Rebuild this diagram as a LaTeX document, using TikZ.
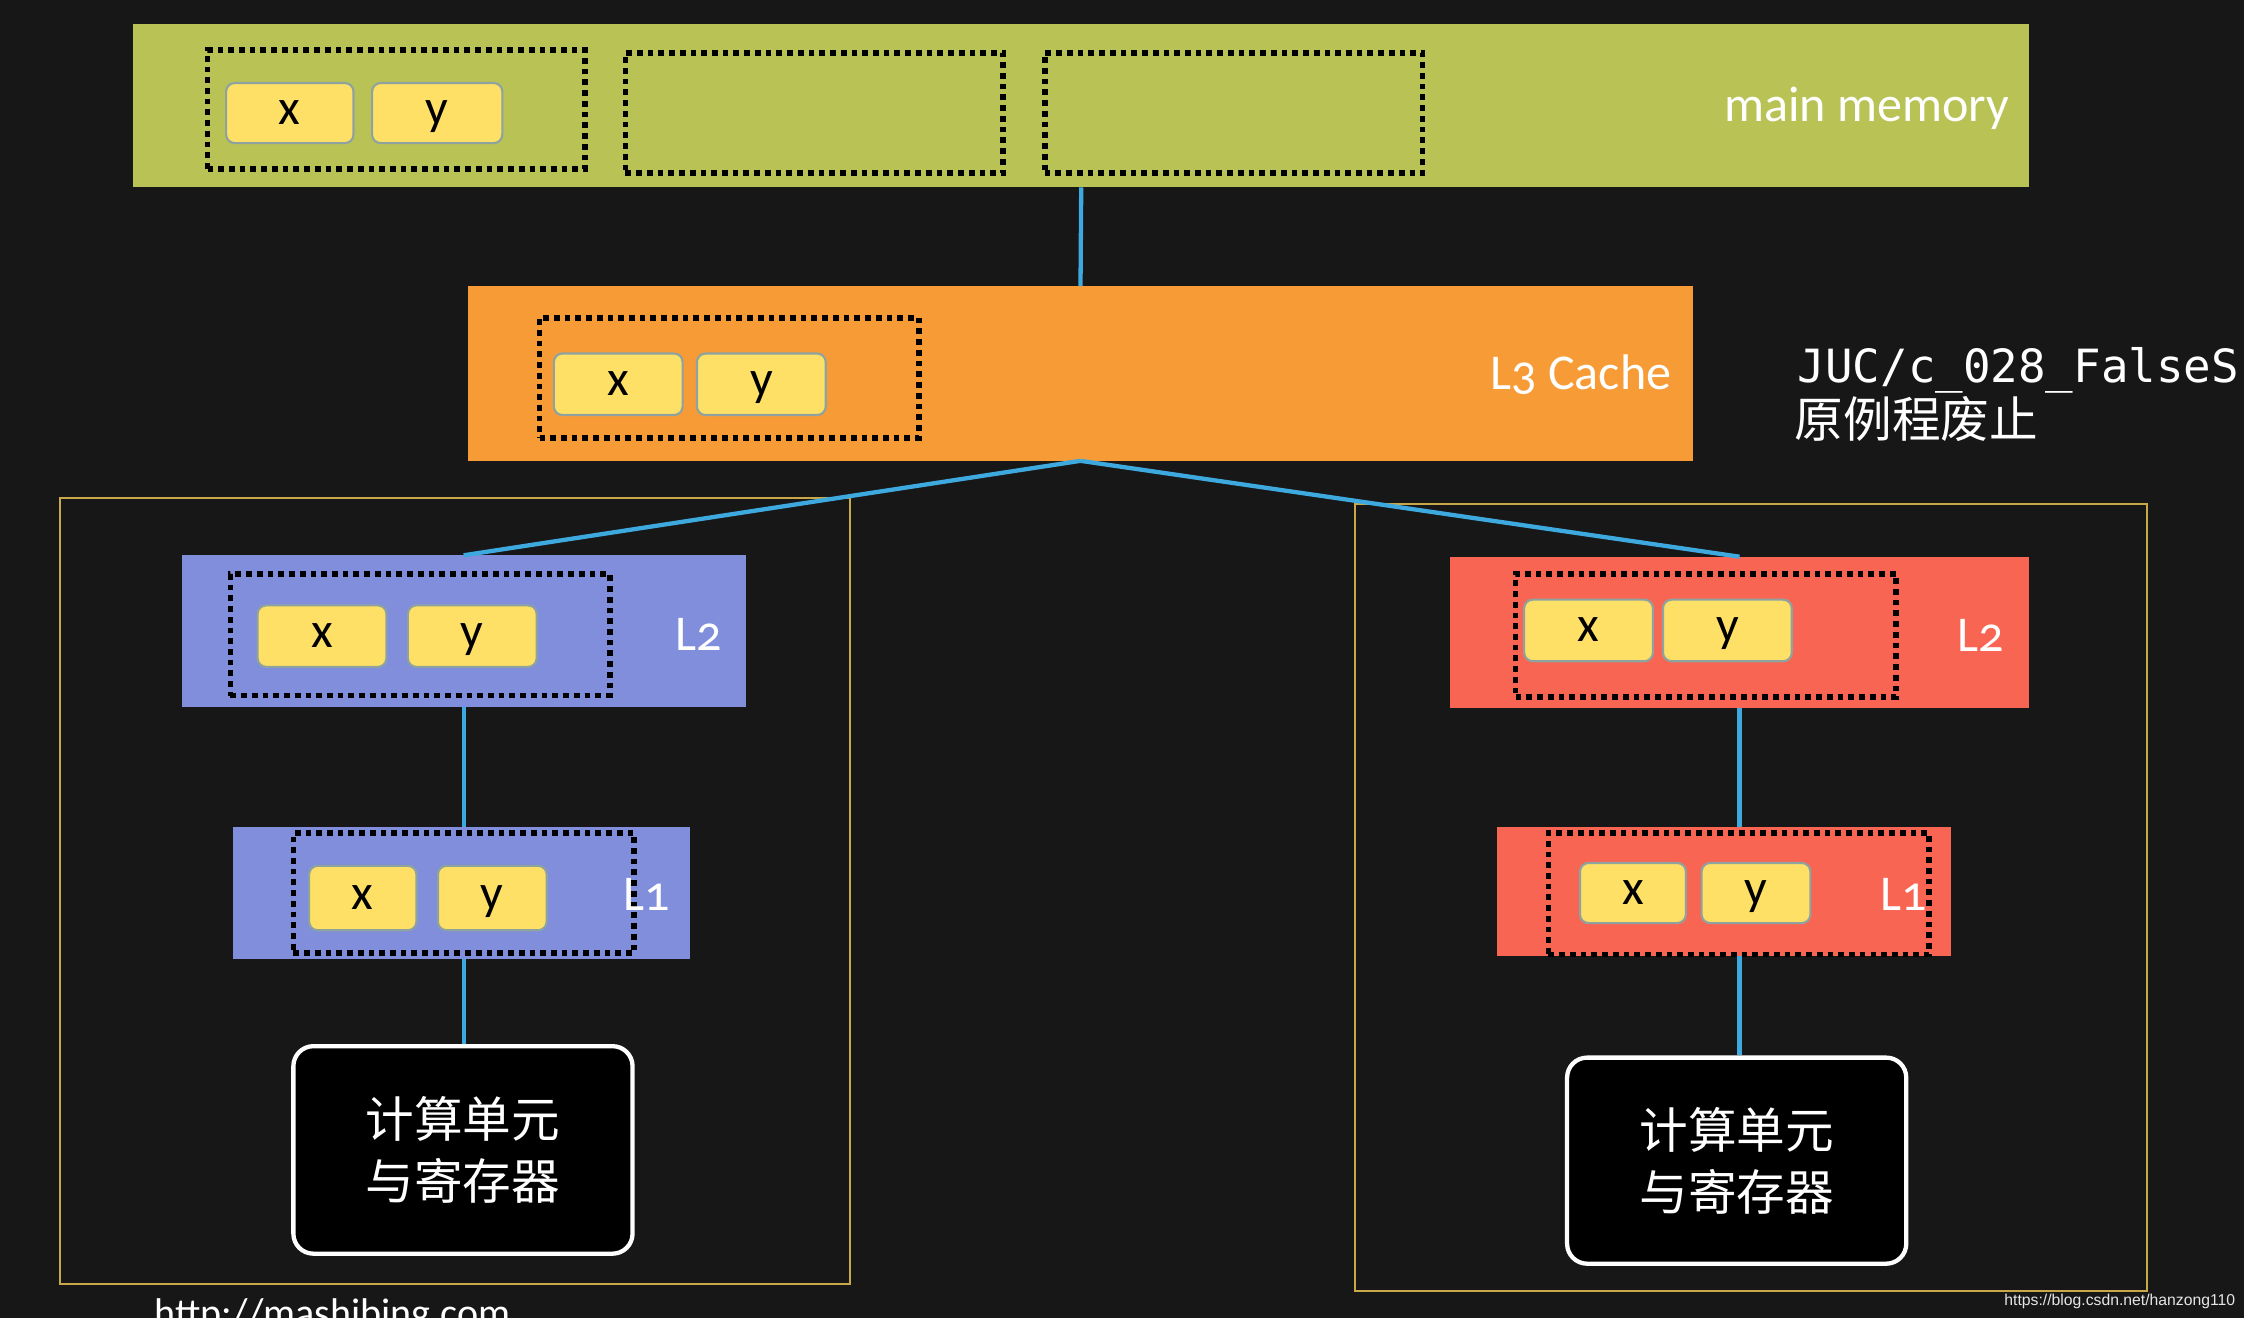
\documentclass[tikz,border=0pt]{standalone}
\usepackage{fontspec}
\setmainfont{Carlito}[Numbers=OldStyle]
\newfontfamily\cjkfont{Noto Sans CJK SC}
\setmonofont{DejaVu Sans Mono}
\newfontfamily\wmfont{Liberation Sans}
\definecolor{bgc}{HTML}{171717}
\definecolor{mmc}{HTML}{B9C355}
\definecolor{lthree}{HTML}{F79B37}
\definecolor{lblue}{HTML}{808EDB}
\definecolor{lred}{HTML}{F96553}
\definecolor{cellc}{HTML}{FFE066}
\definecolor{cellb}{HTML}{8EA3A0}
\definecolor{framec}{HTML}{C9A84A}
\definecolor{linkc}{HTML}{3DA9DE}
\tikzset{
  level/.style={draw=none, inner sep=0, outer sep=0},
  lineset/.style={draw=black, line width=4pt, dash pattern=on 4pt off 3.5pt, inner sep=0},
  cell/.style={draw=cellb, fill=cellc, line width=1.5pt, rounded corners=6pt, inner sep=0,
    minimum height=42pt, text height=22pt, text depth=6pt,
    font=\fontsize{35}{40}\selectfont, text=black},
  lab/.style={text=white, inner sep=0, font=\fontsize{35}{40}\selectfont},
  link/.style={draw=linkc, line width=3pt},
  frame/.style={draw=framec, line width=1.6pt},
  cpu/.style={draw=white, line width=3pt, fill=black, rounded corners=14pt, minimum width=237pt,
    minimum height=145pt, text=white, align=center, font=\cjkfont\fontsize{34}{43}\selectfont}
}
\begin{document}
\begin{tikzpicture}[x=1pt,y=-1pt]
\useasboundingbox (0,0) rectangle (1568,921);
\clip (0,0) rectangle (1568,921);
\fill[bgc] (0,0) rectangle (1568,921);

% frames
\draw[frame] (42,348) rectangle (594,897);
\draw[frame] (947,352) rectangle (1500,902);

% main memory
\node[level, fill=mmc, minimum width=1325pt, minimum height=114pt] (mm) at (755.5,74) {};
\node[lineset, minimum width=264pt, minimum height=83pt] (mm1) at (277,76.5) {};
\node[lineset, minimum width=264pt, minimum height=84pt] (mm2) at (569,79) {};
\node[lineset, minimum width=264pt, minimum height=84pt] (mm3) at (862,79) {};
\node[cell, minimum width=89pt] (mmx) at (202.5,79) {x};
\node[cell, minimum width=91pt] (mmy) at (305.5,79) {y};
\node[lab, anchor=east] (mmt) at (1404,76) {main memory};

% L3
\node[level, fill=lthree, minimum width=856pt, minimum height=122pt] (l3) at (755,261) {};
\node[lineset, minimum width=265pt, minimum height=84pt] (l3d) at (509.5,264) {};
\node[cell, minimum width=90pt, minimum height=43pt] (l3x) at (432,268.5) {x};
\node[cell, minimum width=90pt, minimum height=43pt] (l3y) at (532,268.5) {y};
\node[lab, anchor=east] (l3t) at (1168,262) {L3 Cache};

\node[anchor=base west, inner sep=0, text=white, font=\ttfamily\fontsize{32}{38}\selectfont] (juc) at (1256,267) {JUC/c\_028\_FalseS};
\node[anchor=west, inner sep=0, text=white, font=\cjkfont\fontsize{34}{38}\selectfont] (juc2) at (1254,293) {原例程废止};

% left core
\node[level, fill=lblue, minimum width=394pt, minimum height=106pt] (lL2) at (324,441) {};
\node[lineset, minimum width=265pt, minimum height=85pt] (lL2d) at (293.5,443.5) {};
\node[cell, minimum width=90pt, minimum height=43pt] (lL2x) at (225,444.5) {x};
\node[cell, minimum width=90pt, minimum height=43pt] (lL2y) at (330,444.5) {y};
\node[lab] (lL2t) at (488,443) {L2};

\node[level, fill=lblue, minimum width=319pt, minimum height=92pt] (lL1) at (322.5,624) {};
\node[lineset, minimum width=238pt, minimum height=84pt] (lL1d) at (324,624) {};
\node[cell, minimum width=75pt, minimum height=45pt] (lL1x) at (253.5,627.5) {x};
\node[cell, minimum width=76pt, minimum height=45pt] (lL1y) at (344,627.5) {y};
\node[lab] (lL1t) at (452,625) {L1};

\node[cpu] (lcpu) at (323.5,803.5) {计算单元\\与寄存器};

% right core
\node[level, fill=lred, minimum width=405pt, minimum height=106pt] (rL2) at (1215.5,442) {};
\node[lineset, minimum width=266pt, minimum height=86pt] (rL2d) at (1192,444) {};
\node[cell, minimum width=90pt, minimum height=43pt] (rL2x) at (1110,440.5) {x};
\node[cell, minimum width=90pt, minimum height=43pt] (rL2y) at (1207,440.5) {y};
\node[lab] (rL2t) at (1384,444) {L2};

\node[level, fill=lred, minimum width=317pt, minimum height=90pt] (rL1) at (1204.5,623) {};
\node[lineset, minimum width=266pt, minimum height=85pt] (rL1d) at (1215,624.5) {};
\node[cell, minimum width=74pt, minimum height=42pt] (rL1x) at (1141,624) {x};
\node[cell, minimum width=76pt, minimum height=42pt] (rL1y) at (1227,624) {y};
\node[lab] (rL1t) at (1330,625) {L1};

\node[cpu, minimum height=144pt] (rcpu) at (1213.5,811) {计算单元\\与寄存器};

% connectors
\draw[link] (mm.south) -- (l3.north);
\draw[link] (l3.south) -- (lL2.north);
\draw[link] (l3.south) -- (rL2.north);
\draw[link] (lL2.south) -- (lL2.south |- lL1.north);
\draw[link] (lL2.south |- lL1.south) -- (lL2.south |- lcpu.north);
\draw[link] (rL2.south) -- (rL2.south |- rL1.north);
\draw[link] (rL2.south |- rL1.south) -- (rL2.south |- rcpu.north);

% footer texts
\node[anchor=base west, inner sep=0, text=white, font=\fontsize{28}{32}\selectfont] (url) at (108,927) {http://mashibing.com};
\node[anchor=base east, inner sep=0, text=white!80!gray, font=\wmfont\fontsize{11}{13}\selectfont] (wm) at (1562,912) {https://blog.csdn.net/hanzong110};
\end{tikzpicture}
\end{document}
